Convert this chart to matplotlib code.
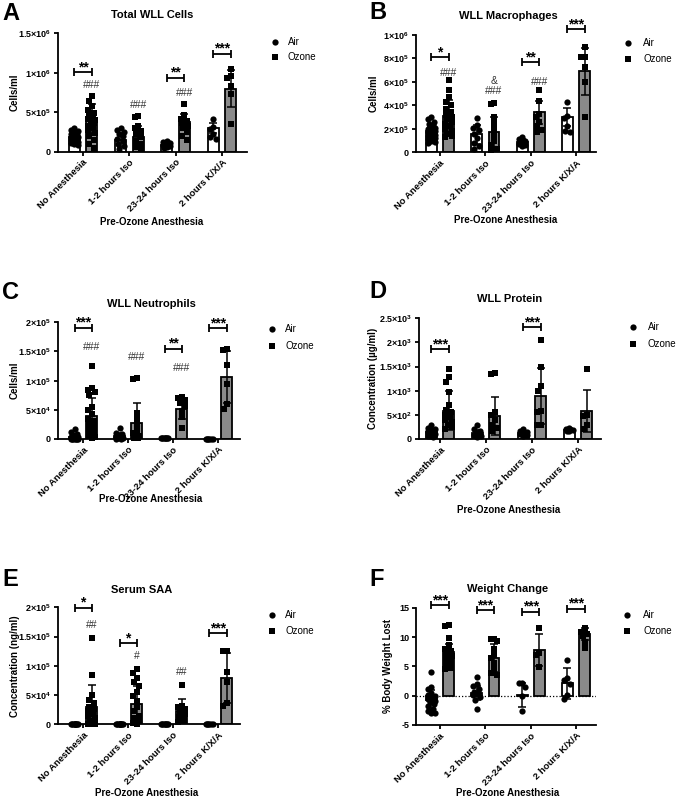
import numpy as np
import matplotlib
matplotlib.use('Agg')
import matplotlib.pyplot as plt
from matplotlib.lines import Line2D

plt.rcParams['font.family'] = ['Liberation Sans', 'DejaVu Sans']
plt.rcParams['mathtext.fontset'] = 'custom'
plt.rcParams['mathtext.rm'] = 'Liberation Sans'
plt.rcParams['mathtext.bf'] = 'Liberation Sans:bold'

W, H = 676, 798
DPI = 100

categories = ['No Anesthesia', '1-2 hours Iso', '23-24 hours Iso', '2 hours K/X/A']
series = ['Air', 'Ozone']

# ---------------- A: Total WLL Cells (x1e5 cells/ml)
A_scale = 1e5
A_air_mean = [1.85, 1.5, 0.85, 3.0]
A_air_sd = [0.6, 0.9, 0.25, 0.6]
A_oz_mean = [4.2, 1.9, 3.8, 8.0]
A_oz_sd = [1.8, 1.4, 1.0, 2.4]
A_air_pts = [[3.0, 2.8, 2.6, 2.5, 2.3, 2.2, 2.1, 2.0, 1.9, 1.8, 1.8, 1.7, 1.6, 1.5, 1.4, 1.3, 1.2, 1.1, 1.0, 0.8],
             [3.0, 2.8, 2.5, 2.2, 2.0, 1.6, 1.3, 1.0, 0.7, 0.4],
             [1.3, 1.2, 1.1, 1.0, 0.9, 0.8, 0.7, 0.6, 0.5],
             [4.2, 3.1, 2.9, 2.3, 1.8, 1.6]]
A_oz_pts = [[7.0, 6.4, 5.8, 5.3, 4.9, 4.6, 4.4, 4.2, 4.0, 3.8, 3.6, 3.3, 3.0, 2.7, 2.4, 2.0, 1.5, 1.0, 0.5],
            [4.5, 4.4, 3.3, 3.0, 2.6, 2.2, 1.8, 1.4, 1.0, 0.6, 0.3],
            [6.0, 4.6, 4.2, 3.9, 3.6, 3.3, 3.0, 2.5, 2.0, 1.5],
            [10.5, 9.6, 9.4, 8.3, 7.3, 3.5]]
A_sig = [(0, 10.1, '**'), (2, 9.4, '**'), (3, 12.4, '***')]
A_hash = [(0, 8.4, '###'), (1, 5.9, '###'), (2, 7.4, '###')]

# ---------------- B: WLL Macrophages (x1e5 cells/ml)
B_scale = 1e5
B_air_mean = [1.8, 1.53, 0.85, 3.0]
B_air_sd = [0.6, 0.8, 0.25, 0.75]
B_oz_mean = [3.1, 1.7, 3.4, 6.9]
B_oz_sd = [1.4, 1.3, 1.0, 2.0]
B_air_pts = [[3.0, 2.8, 2.6, 2.4, 2.3, 2.2, 2.1, 2.0, 1.9, 1.8, 1.7, 1.6, 1.5, 1.4, 1.3, 1.2, 1.1, 1.0, 0.9, 0.8],
             [2.9, 2.3, 2.1, 1.9, 1.6, 1.2, 0.8, 0.5, 0.3],
             [1.3, 1.15, 1.0, 0.9, 0.8, 0.7, 0.6, 0.5],
             [4.3, 3.1, 2.9, 2.2, 1.8, 1.7]]
B_oz_pts = [[6.2, 5.3, 4.7, 4.3, 4.0, 3.7, 3.4, 3.2, 3.0, 2.8, 2.6, 2.4, 2.2, 2.0, 1.8, 1.6, 1.4, 1.3],
            [4.2, 4.1, 3.0, 2.5, 2.0, 1.5, 1.0, 0.6, 0.3, 0.2],
            [5.3, 4.4, 3.3, 3.0, 2.6, 2.2, 1.9, 1.7],
            [9.0, 8.1, 8.1, 7.3, 6.0, 3.0]]
B_sig = [(0, 8.1, '*'), (2, 7.7, '**'), (3, 10.5, '***')]
B_hash = [(0, 6.8, '###'), (1, 5.25, '###'), (1, 6.1, '&'), (2, 6.0, '###')]

# ---------------- C: WLL Neutrophils (x1e4 cells/ml)
C_scale = 1e4
C_air_mean = [0.4, 0.45, 0.05, 0.05]
C_air_sd = [0.5, 0.55, 0.05, 0.05]
C_oz_mean = [4.0, 2.7, 5.1, 10.6]
C_oz_sd = [3.0, 3.5, 1.6, 4.5]
C_air_pts = [[1.7, 1.2, 0.9, 0.7, 0.5, 0.4, 0.3, 0.2, 0.2, 0.1, 0.1, 0.05, 0.05, 0.0, 0.0, 0.0, 0.0, 0.0],
             [1.8, 1.1, 0.8, 0.6, 0.4, 0.3, 0.2, 0.1, 0.05, 0.0],
             [0.1, 0.1, 0.1, 0.1, 0.1, 0.1, 0.1, 0.1],
             [0.05, 0.05, 0.05, 0.05, 0.05, 0.05]]
C_oz_pts = [[12.5, 8.7, 8.4, 8.0, 7.5, 5.5, 5.0, 4.2, 3.5, 3.0, 2.5, 2.0, 1.5, 1.0, 0.5, 0.3, 0.1],
            [10.5, 10.3, 4.5, 3.5, 2.5, 1.5, 1.0, 0.5, 0.2, 0.1],
            [7.2, 7.0, 6.7, 6.2, 5.7, 4.8, 3.8, 1.8],
            [15.5, 15.3, 12.7, 9.5, 6.0, 5.2]]
C_sig = [(0, 19.1, '***'), (2, 15.5, '**'), (3, 19.0, '***')]
C_hash = [(0, 15.7, '###'), (1, 14.1, '###'), (2, 12.1, '###')]

# ---------------- D: WLL Protein (ug/ml)
D_scale = 1.0
D_air_mean = [140, 120, 120, 190]
D_air_sd = [60, 60, 45, 30]
D_oz_mean = [590, 480, 900, 580]
D_oz_sd = [400, 400, 580, 440]
D_air_pts = [[280, 230, 200, 180, 160, 150, 140, 130, 120, 110, 100, 90, 80, 70, 60, 50],
             [280, 200, 160, 130, 110, 90, 70, 50],
             [200, 170, 150, 120, 100, 80, 60],
             [230, 210, 190, 170, 160]]
D_oz_pts = [[1450, 1280, 1190, 980, 700, 600, 550, 500, 450, 400, 350, 300, 250, 200],
            [1360, 1350, 560, 500, 400, 300, 220, 160],
            [2050, 1500, 1100, 1000, 580, 550, 300, 300],
            [1450, 500, 470, 300, 200]]
D_sig = [(0, 1860, '***'), (2, 2310, '***')]
D_hash = []

# ---------------- E: Serum SAA (x1e4 ng/ml)
E_scale = 1e4
E_air_mean = [0.0, 0.0, 0.0, 0.0]
E_air_sd = [0.0, 0.0, 0.0, 0.0]
E_oz_mean = [2.9, 3.5, 2.3, 7.9]
E_oz_sd = [3.8, 3.1, 2.0, 4.3]
E_air_pts = [[0.0] * 10, [0.0] * 10, [0.0] * 8, [0.0] * 6]
E_oz_pts = [[14.8, 8.5, 5.0, 4.2, 3.6, 3.0, 2.6, 2.2, 1.8, 1.4, 1.0, 0.6, 0.3, 0.1, 0.0, 0.0],
            [9.4, 8.7, 8.0, 7.2, 6.5, 5.5, 4.8, 4.0, 3.0, 2.2, 1.5, 1.0, 0.5, 0.2, 0.0],
            [6.7, 3.2, 3.0, 2.6, 2.2, 1.8, 1.2, 0.8, 0.4],
            [12.6, 12.5, 8.9, 7.2, 3.6, 3.2]]
E_sig = [(0, 19.9, '*'), (1, 13.9, '*'), (3, 15.6, '***')]
E_hash = [(0, 17.0, '##'), (1, 11.6, '#'), (2, 8.9, '##')]

# ---------------- F: Weight Change (% body weight lost)
F_scale = 1.0
F_air_mean = [-0.75, 0.5, 0.15, 2.1]
F_air_sd = [1.75, 1.2, 2.0, 2.6]
F_oz_mean = [7.5, 6.4, 7.8, 10.5]
F_oz_sd = [1.3, 2.4, 2.8, 1.0]
F_air_pts = [[4.0, 1.5, 1.2, 0.5, 0.2, 0.0, -0.3, -0.6, -0.9, -1.1, -1.5, -1.8, -2.2, -2.6, -3.0, -3.0],
             [3.1, 2.0, 1.6, 1.1, 0.7, 0.4, 0.1, -0.3, -0.7, -2.2],
             [2.2, 2.1, 1.5, 0.0, -2.6],
             [6.1, 3.0, 2.6, 2.0, 0.1, -0.6]]
F_oz_pts = [[12.0, 11.9, 9.8, 8.6, 8.0, 7.6, 7.2, 6.8, 6.3, 5.8, 5.3, 4.8, 4.5],
            [9.6, 9.6, 9.4, 8.0, 7.0, 6.5, 5.5, 4.5, 3.8, 3.6],
            [11.6, 7.2, 6.9, 4.9],
            [11.5, 10.9, 10.6, 10.2, 9.2, 8.2]]
F_sig = [(0, 15.4, '***'), (1, 14.6, '***'), (2, 14.3, '***'), (3, 14.8, '***')]
F_hash = []


def sci(m, e):
    return r'$\mathbf{%s{\times}10^{%d}}$' % (m, e)


panels = [
    dict(letter='A', title='Total WLL Cells', ylabel='Cells/ml', scale=A_scale,
         am=A_air_mean, asd=A_air_sd, om=A_oz_mean, osd=A_oz_sd, ap=A_air_pts, op=A_oz_pts,
         sig=A_sig, hsh=A_hash, ylim=(0, 1.5e6), yticks=[0, 5e5, 1e6, 1.5e6],
         ytl=['0', sci('5', 5), sci('1', 6), sci('1.5', 6)],
         rect=(58, 33.3, 247, 151.7), xlim=(-0.54, 3.54),
         leg=(275, 42, 57, 288), tpos=(152, 18.3), lpos=(2, 20), xlpos=(152, 225), ylx=15),
    dict(letter='B', title='WLL Macrophages', ylabel='Cells/ml', scale=B_scale,
         am=B_air_mean, asd=B_air_sd, om=B_oz_mean, osd=B_oz_sd, ap=B_air_pts, op=B_oz_pts,
         sig=B_sig, hsh=B_hash, ylim=(0, 1e6), yticks=[0, 2e5, 4e5, 6e5, 8e5, 1e6],
         ytl=['0', sci('2', 5), sci('4', 5), sci('6', 5), sci('8', 5), sci('1', 6)],
         rect=(416, 35, 596, 152.3), xlim=(-0.53, 3.44),
         leg=(628, 43, 59, 643), tpos=(508, 19), lpos=(369, 19.3), xlpos=(506, 223), ylx=374),
    dict(letter='C', title='WLL Neutrophils', ylabel='Cells/ml', scale=C_scale,
         am=C_air_mean, asd=C_air_sd, om=C_oz_mean, osd=C_oz_sd, ap=C_air_pts, op=C_oz_pts,
         sig=C_sig, hsh=C_hash, ylim=(0, 2e5), yticks=[0, 5e4, 1e5, 1.5e5, 2e5],
         ytl=['0', sci('5', 4), sci('1', 5), sci('1.5', 5), sci('2', 5)],
         rect=(58, 322.3, 240, 439), xlim=(-0.56, 3.49),
         leg=(272, 329, 346, 285), tpos=(151, 307), lpos=(2, 299), xlpos=(151, 502), ylx=15),
    dict(letter='D', title='WLL Protein', ylabel='Concentration (µg/ml)', scale=D_scale,
         am=D_air_mean, asd=D_air_sd, om=D_oz_mean, osd=D_oz_sd, ap=D_air_pts, op=D_oz_pts,
         sig=D_sig, hsh=D_hash, ylim=(0, 2500), yticks=[0, 500, 1000, 1500, 2000, 2500],
         ytl=['0', sci('5', 2), sci('1', 3), sci('1.5', 3), sci('2', 3), sci('2.5', 3)],
         rect=(419, 318.3, 601, 439), xlim=(-0.46, 3.5),
         leg=(633, 327, 344, 648), tpos=(510, 302), lpos=(369, 298), xlpos=(509, 513), ylx=373),
    dict(letter='E', title='Serum SAA', ylabel='Concentration (ng/ml)', scale=E_scale,
         am=E_air_mean, asd=E_air_sd, om=E_oz_mean, osd=E_oz_sd, ap=E_air_pts, op=E_oz_pts,
         sig=E_sig, hsh=E_hash, ylim=(0, 2e5), yticks=[0, 5e4, 1e5, 1.5e5, 2e5],
         ytl=['0', sci('5', 4), sci('1', 5), sci('1.5', 5), sci('2', 5)],
         rect=(58, 607.3, 240, 724.3), xlim=(-0.56, 3.49),
         leg=(272, 615, 631, 285), tpos=(142, 593), lpos=(2, 586), xlpos=(147, 796), ylx=15),
    dict(letter='F', title='Weight Change', ylabel='% Body Weight Lost', scale=F_scale,
         am=F_air_mean, asd=F_air_sd, om=F_oz_mean, osd=F_oz_sd, ap=F_air_pts, op=F_oz_pts,
         sig=F_sig, hsh=F_hash, ylim=(-5, 15), yticks=[-5, 0, 5, 10, 15],
         ytl=['-5', '0', '5', '10', '15'],
         rect=(416, 607.7, 596, 725), xlim=(-0.53, 3.44),
         leg=(627, 615, 631, 643), tpos=(508, 592), lpos=(369, 586), xlpos=(508, 796), ylx=388),
]

fig = plt.figure(figsize=(W / DPI, H / DPI), dpi=DPI)


def fx(x):
    return x / W


def fy(y):
    return 1 - y / H


OFF = 0.19
BW = 0.24
LW = 1.3
OZ_COLOR = '#8a8a8a'
MS_C = 4.5
MS_S = 4.2


def swarm(vals, ppu_y, ppu_x, diam=5.0):
    vals = np.asarray(vals, dtype=float)
    order = np.argsort(-vals, kind='stable')
    cands = [0, -2.6, 2.6, -1.3, 1.3, -3.4, 3.4]
    placed = []
    offs = np.zeros(len(vals))
    for i in order:
        y = vals[i] * ppu_y
        best, bestd = 0, -1
        for c in cands:
            d = min([np.hypot(c - px, y - py) for px, py in placed], default=1e9)
            if d >= diam:
                best = c
                break
            if d > bestd:
                bestd, best = d, c
        placed.append((best, y))
        offs[i] = best / ppu_x
    return offs


for p in panels:
    l, t, r, b = p['rect']
    ax = fig.add_axes([fx(l), fy(b), (r - l) / W, (b - t) / H])
    ax.set_xlim(*p['xlim'])
    ax.set_ylim(*p['ylim'])
    ppu_x = (r - l) / (p['xlim'][1] - p['xlim'][0])
    ppu_y = (b - t) / (p['ylim'][1] - p['ylim'][0])
    s = p['scale']
    x = np.arange(len(categories))
    am = np.array(p['am']) * s
    om = np.array(p['om']) * s
    asd = np.array(p['asd']) * s
    osd = np.array(p['osd']) * s

    if p['ylim'][0] < 0:
        ax.axhline(0, color='black', lw=0.9, ls=(0, (1, 1.6)), zorder=1)

    ax.bar(x - OFF, am, BW, color='white', edgecolor='black', linewidth=LW, zorder=2)
    ax.bar(x + OFF, om, BW, color=OZ_COLOR, edgecolor='black', linewidth=LW, zorder=2)

    for gi in range(len(categories)):
        av = np.array(p['ap'][gi]) * s
        ov = np.array(p['op'][gi]) * s
        ao = swarm(av, ppu_y, ppu_x)
        oo = swarm(ov, ppu_y, ppu_x)
        ax.plot(x[gi] - OFF + ao, av, 'o', color='black', markersize=MS_C, markeredgewidth=0,
                zorder=3, clip_on=False)
        ax.plot(x[gi] + OFF + oo, ov, 's', color='black', markersize=MS_S, markeredgewidth=0,
                zorder=3, clip_on=False)

    ax.errorbar(x - OFF, am, yerr=asd, fmt='none', ecolor='black', elinewidth=1.1,
                capsize=2.8, capthick=1.1, zorder=4)
    ax.errorbar(x + OFF, om, yerr=osd, fmt='none', ecolor='black', elinewidth=1.1,
                capsize=2.8, capthick=1.1, zorder=4)

    # significance brackets
    tick = 4.0 / ppu_y
    for gi, yv, stars in p['sig']:
        yv = yv * s
        x1, x2 = gi - OFF, gi + OFF
        ax.plot([x1, x2], [yv, yv], color='black', lw=LW, clip_on=False, zorder=5,
                solid_capstyle='butt')
        for xx in (x1, x2):
            ax.plot([xx, xx], [yv - tick, yv + tick], color='black', lw=LW, clip_on=False,
                    zorder=5, solid_capstyle='butt')
        ax.text((x1 + x2) / 2, yv + 1.0 / ppu_y, stars, ha='center', va='baseline',
                fontsize=10, fontweight='bold', clip_on=False)
    for gi, yv, txt in p['hsh']:
        ax.text(gi + OFF, yv * s, txt, ha='center', va='center', fontsize=7.5,
                color='#333333', clip_on=False)

    for side in ('top', 'right'):
        ax.spines[side].set_visible(False)
    for side in ('left', 'bottom'):
        ax.spines[side].set_linewidth(LW)
    ax.set_yticks(p['yticks'])
    ax.set_yticklabels(p['ytl'], fontsize=6.5, fontweight='bold')
    ax.set_xticks(x)
    ax.set_xticklabels(categories, rotation=45, ha='right', va='top', rotation_mode='anchor',
                       fontsize=6.8, fontweight='bold')
    ax.tick_params(axis='both', direction='out', length=3, width=LW, pad=2)
    ax.tick_params(axis='x', pad=1.5)

    # text
    fig.text(fx(p['lpos'][0]), fy(p['lpos'][1]), p['letter'], fontsize=17, fontweight='bold',
             ha='left', va='baseline')
    fig.text(fx(p['tpos'][0]), fy(p['tpos'][1]), p['title'], fontsize=8, fontweight='bold',
             ha='center', va='baseline')
    fig.text(fx(p['xlpos'][0]), fy(p['xlpos'][1]), 'Pre-Ozone Anesthesia', fontsize=7,
             fontweight='bold', ha='center', va='baseline')
    fig.text(fx(p['ylx']), fy((t + b) / 2), p['ylabel'], fontsize=7, fontweight='bold',
             ha='center', va='center', rotation=90)

    # legend
    mx, ya, yo, tx = p['leg']
    fig.add_artist(Line2D([fx(mx)], [fy(ya)], marker='o', color='black', markersize=MS_C,
                          markeredgewidth=0, transform=fig.transFigure))
    fig.add_artist(Line2D([fx(mx)], [fy(yo)], marker='s', color='black', markersize=MS_S,
                          markeredgewidth=0, transform=fig.transFigure))
    fig.text(fx(tx), fy(ya), series[0], fontsize=7, ha='left', va='center')
    fig.text(fx(tx), fy(yo), series[1], fontsize=7, ha='left', va='center')

fig.savefig('out.png', dpi=DPI)
